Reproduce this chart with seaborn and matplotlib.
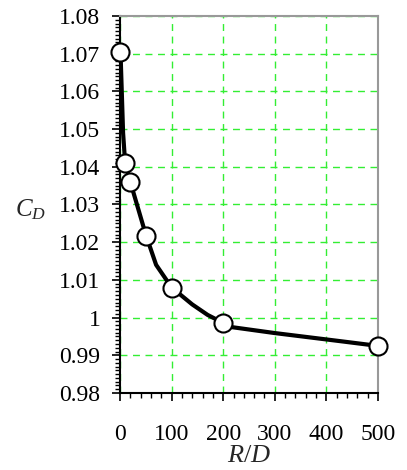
import matplotlib
matplotlib.use('Agg')
import matplotlib.pyplot as plt
import seaborn as sns
import pandas as pd
from matplotlib.ticker import MultipleLocator, FuncFormatter

sns.set_style('ticks')
plt.rcParams['font.family'] = 'serif'
plt.rcParams['font.serif'] = ['Liberation Serif', 'Times New Roman', 'DejaVu Serif']
plt.rcParams['mathtext.fontset'] = 'custom'
plt.rcParams['mathtext.it'] = 'Liberation Serif:italic'
plt.rcParams['mathtext.rm'] = 'Liberation Serif'

# smooth curve points
curve_x = [1, 6, 10, 20, 50, 70, 100, 140, 170, 200, 210, 300, 430, 500]
curve_y = [1.0705, 1.049, 1.041, 1.036, 1.022, 1.014, 1.008, 1.0035, 1.0007, 0.9986, 0.9976, 0.9959, 0.9937, 0.9925]

# data markers
marker_x = [1, 10, 20, 50, 100, 200, 500]
marker_y = [1.0705, 1.041, 1.036, 1.0216, 1.0078, 0.9986, 0.9925]

curve = pd.DataFrame({'RD': curve_x, 'CD': curve_y})
pts = pd.DataFrame({'RD': marker_x, 'CD': marker_y})

fig = plt.figure(figsize=(4.07, 4.70), dpi=100)
ax = fig.add_axes([0.2948, 0.1638, 0.6339, 0.8022])

sns.lineplot(data=curve, x='RD', y='CD', ax=ax, color='black', linewidth=3, sort=False, zorder=3)
ax.plot(pts['RD'], pts['CD'], linestyle='none', marker='o', markersize=13,
        markerfacecolor='white', markeredgecolor='black', markeredgewidth=1.5,
        clip_on=False, zorder=4)

ax.set_xlim(0, 500)
ax.set_ylim(0.98, 1.08)
ax.xaxis.set_major_locator(MultipleLocator(100))
ax.xaxis.set_minor_locator(MultipleLocator(20))
ax.yaxis.set_major_locator(MultipleLocator(0.01))
ax.yaxis.set_minor_locator(MultipleLocator(0.001))
ax.yaxis.set_major_formatter(FuncFormatter(lambda v, p: '{:g}'.format(round(v, 3))))

ax.grid(True, which='major', color='#33ee33', linestyle=(0, (5, 4)), linewidth=1)
ax.set_axisbelow(True)

for s in ['top', 'right']:
    ax.spines[s].set_color('#999999')
    ax.spines[s].set_linewidth(1.5)
for s in ['left', 'bottom']:
    ax.spines[s].set_color('black')
    ax.spines[s].set_linewidth(1.5)

ax.tick_params(axis='both', which='major', direction='out', length=6, width=1.2, labelsize=17, colors='black')
ax.tick_params(axis='both', which='minor', direction='out', length=3.5, width=1.0, colors='black')
ax.tick_params(axis='x', which='major', pad=16)
ax.tick_params(axis='y', which='major', pad=8)

ax.set_xlabel('$R/D$', fontsize=19, labelpad=0)
ax.set_ylabel('$C_D$', fontsize=18, rotation=0, va='center', ha='center')
ax.yaxis.set_label_coords(-0.345, 0.485)

fig.savefig('out.png', dpi=100)
